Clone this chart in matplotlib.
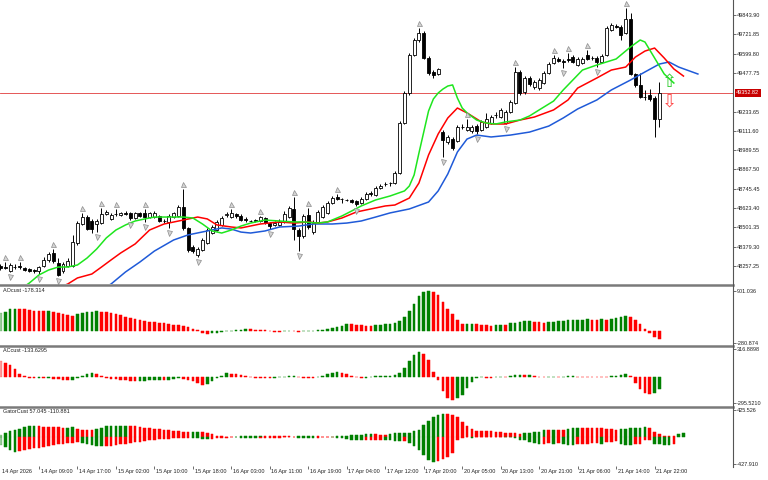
import matplotlib
matplotlib.use('Agg')
import matplotlib.pyplot as plt
import matplotlib.transforms as mtransforms
from matplotlib.colors import to_rgba
from matplotlib.lines import Line2D
import numpy as np

plt.rcParams['font.family'] = ['Liberation Sans', 'DejaVu Sans']

# ---------------- price data (hourly candles) ----------------
opens = [48258, 48251, 48229, 48251, 48258, 48245, 48236, 48232, 48226, 48258,
         48296, 48340, 48277, 48226, 48258, 48258, 48403, 48523, 48567, 48542,
         48523, 48529, 48586, 48555, 48586, 48580, 48593, 48593, 48561, 48593,
         48593, 48567, 48567, 48574, 48542, 48536, 48567, 48574, 48630, 48498,
         48378, 48327, 48359, 48403, 48466, 48485, 48517, 48580, 48567, 48586,
         48574, 48555, 48542, 48548, 48542, 48561, 48529, 48517, 48517, 48536,
         48567, 48618, 48485, 48447, 48580, 48473, 48536, 48567, 48593, 48656,
         48691, 48681, 48675, 48675, 48668, 48656, 48681, 48719, 48706, 48751,
         48773, 48782, 48782, 48845, 49161, 49351, 49591, 49686, 49730, 49572,
         49484, 49471, 49104, 49041, 49060, 49048, 49136, 49117, 49111, 49142,
         49117, 49136, 49161, 49209, 49199, 49161, 49231, 49288, 49484, 49357,
         49446, 49389, 49383, 49414, 49477, 49541, 49566, 49553, 49566, 49579,
         49528, 49541, 49591, 49572, 49572, 49547, 49591, 49749, 49774, 49768,
         49730, 49819, 49471, 49402, 49326, 49338, 49319, 49187]
highs = [48270, 48283, 48277, 48270, 48283, 48251, 48245, 48239, 48258, 48314,
         48346, 48365, 48308, 48283, 48308, 48454, 48542, 48593, 48580, 48555,
         48555, 48624, 48612, 48593, 48618, 48599, 48605, 48599, 48599, 48599,
         48618, 48599, 48605, 48580, 48555, 48586, 48599, 48643, 48744, 48504,
         48390, 48378, 48435, 48498, 48517, 48548, 48574, 48599, 48618, 48593,
         48586, 48567, 48548, 48555, 48574, 48567, 48536, 48542, 48555, 48605,
         48637, 48694, 48498, 48586, 48624, 48548, 48612, 48643, 48668, 48700,
         48713, 48687, 48681, 48681, 48675, 48694, 48725, 48732, 48763, 48776,
         48789, 48789, 48858, 49174, 49364, 49604, 49699, 49762, 49743, 49585,
         49496, 49509, 49117, 49085, 49073, 49149, 49155, 49187, 49149, 49155,
         49180, 49225, 49212, 49231, 49256, 49244, 49307, 49515, 49496, 49458,
         49458, 49433, 49446, 49490, 49547, 49591, 49579, 49566, 49604, 49591,
         49579, 49579, 49623, 49585, 49585, 49597, 49774, 49793, 49787, 49781,
         49888, 49857, 49477, 49477, 49370, 49376, 49332, 49421]
lows = [48232, 48239, 48220, 48239, 48239, 48226, 48220, 48213, 48207, 48251,
        48283, 48277, 48194, 48213, 48251, 48251, 48390, 48517, 48485, 48466,
        48473, 48523, 48580, 48548, 48574, 48574, 48580, 48548, 48555, 48567,
        48536, 48561, 48561, 48536, 48529, 48498, 48561, 48567, 48485, 48346,
        48340, 48314, 48352, 48397, 48460, 48479, 48510, 48567, 48561, 48561,
        48542, 48536, 48536, 48536, 48536, 48523, 48491, 48510, 48510, 48529,
        48561, 48422, 48352, 48435, 48491, 48460, 48529, 48561, 48586, 48649,
        48675, 48656, 48668, 48656, 48637, 48649, 48675, 48700, 48700, 48744,
        48763, 48763, 48776, 48839, 49155, 49338, 49585, 49673, 49566, 49465,
        49446, 49465, 48946, 49029, 48991, 49041, 49123, 49111, 49098, 49092,
        49111, 49130, 49155, 49193, 49193, 49155, 49225, 49281, 49338, 49345,
        49395, 49376, 49370, 49408, 49471, 49534, 49547, 49509, 49547, 49541,
        49522, 49534, 49560, 49560, 49515, 49541, 49585, 49743, 49762, 49686,
        49724, 49465, 49389, 49319, 49307, 49300, 49073, 49136]
closes = [48245, 48248, 48261, 48254, 48251, 48232, 48226, 48223, 48251, 48296,
          48333, 48289, 48201, 48270, 48289, 48409, 48529, 48567, 48491, 48491,
          48542, 48586, 48599, 48580, 48589, 48593, 48589, 48561, 48593, 48574,
          48567, 48593, 48593, 48542, 48539, 48574, 48593, 48630, 48498, 48359,
          48352, 48365, 48422, 48485, 48504, 48536, 48561, 48586, 48593, 48574,
          48548, 48548, 48539, 48545, 48567, 48529, 48510, 48529, 48536, 48586,
          48624, 48491, 48447, 48574, 48504, 48529, 48599, 48630, 48656, 48687,
          48684, 48678, 48672, 48662, 48649, 48681, 48713, 48713, 48751, 48766,
          48776, 48779, 48845, 49161, 49351, 49591, 49686, 49730, 49572, 49477,
          49465, 49503, 49054, 49073, 49003, 49136, 49139, 49136, 49136, 49111,
          49168, 49187, 49199, 49212, 49244, 49231, 49294, 49484, 49351, 49446,
          49408, 49421, 49433, 49477, 49534, 49572, 49553, 49550, 49560, 49547,
          49566, 49566, 49566, 49569, 49547, 49585, 49762, 49781, 49771, 49718,
          49819, 49471, 49402, 49326, 49323, 49313, 49187, 49352.82]

# Alligator lines (bar index, price)
lips_bars = [0, 3, 6, 8, 10, 12, 14, 16, 18, 20, 22, 24, 26, 28, 30, 32, 35, 38, 40, 42,
             44, 46, 48, 50, 52, 55, 58, 61, 63, 66, 68, 71, 73, 75, 78, 81, 84, 85, 86, 87,
             88, 89, 90, 91, 92, 93, 94, 95, 96, 97, 99, 101, 103, 105, 108, 110, 112, 115, 117, 119,
             121, 124, 126, 128, 131, 133, 134, 136, 138, 140]
lips_vals = [48043, 48087, 48150, 48201, 48232, 48251, 48251, 48264, 48308, 48365,
             48435, 48485, 48517, 48542, 48555, 48567, 48567, 48567, 48561, 48523,
             48479, 48466, 48485, 48510, 48529, 48548, 48542, 48536, 48536, 48529,
             48536, 48574, 48605, 48637, 48675, 48700, 48732, 48763, 48833, 48971,
             49104, 49237, 49313, 49351, 49376, 49395, 49402, 49319, 49256, 49225,
             49180, 49161, 49155, 49168, 49180, 49206, 49244, 49300, 49370, 49433,
             49496, 49528, 49547, 49566, 49642, 49686, 49673, 49572, 49471, 49414]
teeth_bars = [0, 5, 10, 14, 16, 19, 21, 23, 25, 28, 31, 34, 38, 41, 43, 45, 48, 50, 54, 58,
              61, 64, 66, 68, 71, 74, 77, 80, 82, 85, 87, 89, 91, 93, 95, 97, 100, 102, 105, 108,
              111, 115, 118, 120, 124, 127, 130, 132, 134, 136, 138, 140, 142]
teeth_vals = [47979, 48043, 48093, 48144, 48182, 48207, 48251, 48296, 48340, 48397,
              48485, 48523, 48548, 48567, 48555, 48517, 48504, 48498, 48523, 48536,
              48529, 48536, 48529, 48536, 48561, 48599, 48618, 48637, 48643, 48687,
              48782, 48959, 49092, 49193, 49256, 49225, 49168, 49155, 49155, 49180,
              49199, 49244, 49307, 49382, 49446, 49496, 49515, 49578, 49616, 49635,
              49572, 49503, 49458]
jaw_bars = [0, 8, 15, 20, 23, 26, 29, 32, 36, 39, 43, 46, 48, 50, 52, 55, 58, 62, 65, 69,
            72, 75, 78, 81, 85, 89, 91, 93, 95, 97, 99, 102, 106, 110, 114, 117, 120, 124, 127, 131,
            134, 137, 139, 141, 145]
jaw_vals = [47790, 47916, 48024, 48093, 48144, 48220, 48283, 48352, 48422, 48454,
            48479, 48498, 48491, 48472, 48466, 48479, 48504, 48510, 48523, 48523,
            48529, 48542, 48567, 48593, 48618, 48662, 48732, 48839, 48978, 49060,
            49085, 49073, 49085, 49104, 49142, 49193, 49250, 49307, 49370, 49433,
            49484, 49534, 49547, 49515, 49471]

frac_up = [1, 4, 11, 17, 21, 24, 30, 38, 48, 54, 61, 64, 70, 87, 97, 107, 115, 118, 122, 130]
frac_dn = [2, 8, 12, 20, 27, 30, 35, 41, 56, 62, 74, 92, 99, 105, 117, 124]

signal_up = (139, 49420)
signal_dn = (139, 49300)

# ---------------- oscillators ----------------
ao_vals = [390, 428, 480, 488, 485, 478, 465, 450, 443, 440,
           445, 413, 390, 368, 353, 338, 368, 390, 413, 428,
           443, 428, 413, 390, 368, 353, 315, 293, 255, 240,
           225, 203, 188, 180, 165, 143, 128, 125, 113, 75,
           30, 10, -45, -75, -60, -45, -25, -10, 3, 10,
           18, 38, 30, 25, 12, 5, -12, -20, -24, -15,
           -8, -14, -22, -15, -8, 0, 10, 18, 30, 52,
           75, 112, 150, 142, 128, 120, 112, 108, 120, 130,
           142, 150, 165, 218, 300, 443, 600, 780, 878, 901,
           878, 803, 653, 480, 368, 240, 150, 152, 158, 150,
           135, 120, 116, 128, 131, 120, 165, 180, 188, 210,
           218, 203, 195, 180, 195, 203, 210, 218, 233, 236,
           238, 240, 255, 251, 248, 255, 250, 263, 278, 300,
           330, 315, 240, 150, 45, -60, -135, -178.314]
ac_vals = [184, 162, 136, 92, 37, 7, -11, -15, -13, -15,
           -7, -18, -26, -29, -33, -29, -7, 15, 37, 44,
           37, 7, -11, -18, -22, -29, -37, -44, -48, -44,
           -40, -37, -36, -33, -37, -29, -22, -15, -18, -33,
           -48, -66, -85, -80, -48, -11, 15, 40, 36, 30,
           22, 7, -4, -7, -11, -12, -15, -7, -4, 0,
           7, 15, -4, -7, -8, -15, 0, 15, 29, 40,
           52, 48, 29, 15, 0, -15, -11, -4, 7, 10,
           12, 14, 18, 48, 107, 177, 243, 280, 261, 188,
           59, -33, -160, -240, -255, -240, -200, -120, -60, -15,
           -5, -8, -10, -5, -2, -4, 7, 18, 22, 18,
           25, 10, 3, 0, 2, 3, 2, 4, 8, 12,
           5, 2, 0, -1, -2, -3, -4, 7, 15, 26,
           37, 7, -66, -133, -184, -195, -177, -133.6295]
gator_up = [37, 68, 95, 116, 132, 158, 169, 170, 168, 166,
            165, 158, 156, 148, 150, 152, 132, 116, 113, 105,
            132, 148, 169, 179, 180, 181, 182, 178, 169, 158,
            148, 137, 126, 121, 116, 105, 95, 90, 79, 74,
            75, 78, 72, 60, 40, 20, 8, 5, 4, 6,
            12, 15, 18, 20, 22, 20, 18, 16, 12, 10,
            8, 6, 9, 12, 14, 16, 12, 5, 3, 2,
            10, 18, 22, 30, 35, 38, 42, 45, 40, 38,
            36, 55, 56, 58, 63, 69, 95, 116, 184, 253,
            316, 358, 369, 365, 358, 316, 237, 169, 132, 95,
            90, 89, 88, 79, 74, 69, 68, 63, 55, 58,
            63, 74, 84, 105, 104, 116, 115, 114, 132, 137,
            148, 146, 145, 144, 143, 140, 130, 122, 116, 120,
            135, 142, 148, 150, 152, 140, 80, 40, 22, 14,
            10, 42, 57.045]
gator_dn = [132, 158, 211, 237, 221, 200, 184, 174, 169, 158,
            148, 132, 116, 105, 95, 90, 79, 90, 105, 121,
            137, 148, 146, 137, 126, 116, 105, 95, 84, 74,
            63, 53, 42, 37, 32, 26, 21, 20, 19, 16,
            18, 22, 25, 30, 28, 22, 12, 8, 5, 7,
            12, 15, 18, 20, 18, 16, 14, 10, 8, 6,
            5, 5, 8, 12, 16, 18, 10, 4, 2, 3,
            10, 20, 30, 40, 48, 52, 50, 48, 45, 42,
            53, 54, 63, 64, 62, 95, 148, 200, 290, 369,
            395, 385, 343, 316, 253, 40, 15, 5, 8, 6,
            5, 4, 3, 2, 2, 3, 5, 12, 42, 53,
            79, 95, 105, 104, 103, 106, 95, 116, 121, 122,
            116, 105, 104, 95, 94, 105, 79, 74, 69, 105,
            132, 133, 105, 104, 53, 52, 105, 116, 121, 125,
            110.881]

price_ticks = [49843.90, 49721.85, 49599.80, 49477.75, 49233.65, 49111.60, 48989.55,
               48867.50, 48745.45, 48623.40, 48501.35, 48379.30, 48257.25]
ao_scale = [901.036, -280.874]
ac_scale = [316.8898, -295.5210]
gator_scale = [425.526, -427.910]

time_labels = ['14 Apr 2026', '14 Apr 09:00', '14 Apr 17:00', '15 Apr 02:00', '15 Apr 10:00',
               '15 Apr 18:00', '16 Apr 03:00', '16 Apr 11:00', '16 Apr 19:00', '17 Apr 04:00',
               '17 Apr 12:00', '17 Apr 20:00', '20 Apr 05:00', '20 Apr 13:00', '20 Apr 21:00',
               '21 Apr 06:00', '21 Apr 14:00', '21 Apr 22:00']
label_step = 8

# ---------------- styling ----------------
GREEN = '#008000'
RED = '#ff0000'
LIME = '#1ee61e'
BLUE = '#1f5ad8'
TXT = '#222222'
AX_COL = '#555555'

W, H = 768, 480
AXIS_X = 733
fig = plt.figure(figsize=(W / 100, H / 100), dpi=100)


def panel(top, bottom, fmt, ticks, labels=None):
    a = fig.add_axes([0, 1 - bottom / H, AXIS_X / W, (bottom - top) / H])
    a.set_xlim(-0.1, 152.3)
    for s in a.spines.values():
        s.set_visible(False)
    a.tick_params(axis='x', bottom=False, labelbottom=False)
    a.yaxis.tick_right()
    a.set_yticks(ticks)
    a.set_yticklabels(labels if labels else [fmt.format(t) for t in ticks])
    a.tick_params(axis='y', right=True, length=2, width=0.6, color=AX_COL,
                  labelsize=4, pad=1, labelcolor=TXT)
    return a


ax = panel(0, 284, '{:.2f}', price_ticks)
ax.set_ylim(48143.8, 49938.7)
ax_ao = panel(287, 345, '', ao_scale, ['901.036', '-280.874'])
ax_ao.set_ylim(-322, 983)
ax_ac = panel(347, 405, '', ac_scale, ['316.8898', '-295.5210'])
ax_ac.set_ylim(-315, 338)
ax_gt = panel(408, 466, '', gator_scale, ['425.526', '-427.910'])
ax_gt.set_ylim(-462, 462)

# ---- candles ----
o, h, l, c = map(np.array, (opens, highs, lows, closes))
x = np.arange(len(o))
bull = c >= o
ax.vlines(x, l, h, color='black', lw=0.7, zorder=2)
ax.bar(x, np.abs(c - o), bottom=np.minimum(o, c), width=0.62,
       color=np.where(bull, 'white', 'black'), edgecolor='black', linewidth=0.6, zorder=3)

# ---- alligator ----
ax.plot(jaw_bars, jaw_vals, color=BLUE, lw=1.1, zorder=4)
ax.plot(teeth_bars, teeth_vals, color=RED, lw=1.1, zorder=4)
ax.plot(lips_bars, lips_vals, color=LIME, lw=1.1, zorder=4)

# ---- current price ----
last = closes[-1]
ax.axhline(last, color='#e03c3c', lw=0.6, zorder=1.5)
ax.text(1.0045, last, f'{last:.2f}', transform=ax.get_yaxis_transform(),
        fontsize=4, color='white', ha='left', va='center',
        bbox=dict(boxstyle='square,pad=0.25', fc='#c80000', ec='none'))

# ---- fractals ----
up_tr = mtransforms.offset_copy(ax.transData, fig=fig, y=5, units='dots')
dn_tr = mtransforms.offset_copy(ax.transData, fig=fig, y=-5, units='dots')
ax.plot(frac_up, h[frac_up], ls='none', marker='^', ms=3.6, mfc='#d4d4d4', mec='#8c8c8c',
        mew=0.5, transform=up_tr, zorder=5)
ax.plot(frac_dn, l[frac_dn], ls='none', marker='v', ms=3.6, mfc='#d4d4d4', mec='#8c8c8c',
        mew=0.5, transform=dn_tr, zorder=5)

# ---- signal arrows ----
ax.text(signal_up[0], signal_up[1], '\u21e7', family='DejaVu Sans', fontsize=13,
        color='#33cc33', ha='center', va='center', zorder=6)
ax.text(signal_dn[0], signal_dn[1], '\u21e9', family='DejaVu Sans', fontsize=13,
        color='#ff4a4a', ha='center', va='center', zorder=6)


# ---- histograms ----
def colors_from(series):
    cols = [GREEN if series[i] > series[i - 1] else RED for i in range(1, len(series))]
    cols = [cols[0]] + cols
    rgba = [to_rgba(cc) for cc in cols]
    rgba[0] = to_rgba(cols[0], 0.4)
    return rgba


def hist(a, xs, vals, cols):
    a.bar(xs, vals, width=0.55, color=cols, edgecolor=cols, linewidth=0.35, zorder=2)


ao = np.array(ao_vals, dtype=float)
hist(ax_ao, np.arange(len(ao)), ao, colors_from(ao))
ac = np.array(ac_vals, dtype=float)
hist(ax_ac, np.arange(len(ac)), ac, colors_from(ac))
gu = np.array(gator_up, dtype=float)
gd = np.array(gator_dn, dtype=float)
hist(ax_gt, np.arange(len(gu)), gu, colors_from(gu))
hist(ax_gt, np.arange(len(gd)), -gd, colors_from(gd))

# ---- subwindow captions ----
ax_ao.text(0.004, 0.975, f'AOcust {ao_vals[-1]:.3f}', transform=ax_ao.transAxes,
           fontsize=4, color=TXT, va='top', ha='left')
ax_ac.text(0.004, 0.975, f'ACcust {ac_vals[-1]:.4f}', transform=ax_ac.transAxes,
           fontsize=4, color=TXT, va='top', ha='left')
ax_gt.text(0.004, 0.975, f'GatorCust {gator_up[-1]:.3f} {-gator_dn[-1]:.3f}',
           transform=ax_gt.transAxes, fontsize=4, color=TXT, va='top', ha='left')

# ---- time axis ----
tick_bars = np.arange(len(time_labels)) * label_step
ax_gt.set_xticks(tick_bars[1:])
ax_gt.tick_params(axis='x', bottom=True, length=2, width=0.6, color=AX_COL, labelbottom=False)
for b, lab in zip(tick_bars, time_labels):
    ax_gt.annotate(lab, xy=(b, 0), xycoords=ax_gt.get_xaxis_transform(),
                   xytext=(1.2, -2.4), textcoords='offset points',
                   fontsize=4, color=TXT, ha='left', va='top')

# ---- separators and price axis line ----
for ysep in (284.8, 345.9, 406.6):
    fig.add_artist(Line2D([0, AXIS_X / W], [1 - ysep / H] * 2, color='#7a7a7a', lw=1.8))
fig.add_artist(Line2D([AXIS_X / W] * 2, [1, 1 - 467 / H], color=AX_COL, lw=0.8))

fig.savefig('out.png', dpi=100)
